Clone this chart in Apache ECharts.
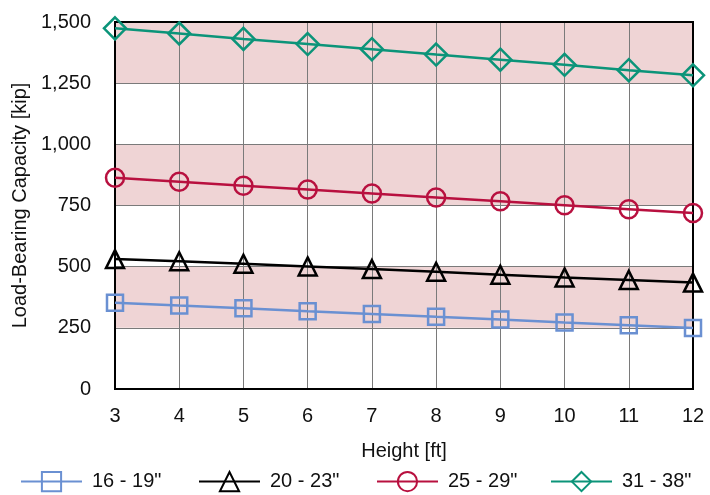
<!DOCTYPE html>
<html><head><meta charset="utf-8">
<script src="https://cdn.jsdelivr.net/npm/echarts@6/dist/echarts.min.js"></script>
<style>html,body{margin:0;padding:0;background:#fff}#c{width:710px;height:495px}</style>
</head><body><div id="c"></div>
<script>
var heights = [3,4,5,6,7,8,9,10,11,12];
var seriesNames = ['16 - 19"', '20 - 23"', '25 - 29"', '31 - 38"'];
var s16_19 = [353, 341, 330, 318, 307, 295, 284, 272, 261, 249];
var s20_23 = [531, 522, 512, 501, 490, 479, 467, 456, 446, 435];
var s25_29 = [863, 847, 831, 815, 799, 783, 767, 751, 735, 719];
var s31_38 = [1474, 1453, 1431, 1410, 1389, 1367, 1346, 1325, 1303, 1282];
var bands = [[250,500],[750,1000],[1250,1500]];

var colors = ['#6a90d2', '#000000', '#b8103f', '#0b9479'];
var symbols = ['rect', 'triangle', 'circle', 'diamond'];
var sizes = [16, 18, 18, 22];
var datas = [s16_19, s20_23, s25_29, s31_38];
var FONT = 'Liberation Sans, Arial, Helvetica, sans-serif';
var FS = 20;

var series = datas.map(function(d, i){
  return {
    name: seriesNames[i], type: 'line', clip: false,
    data: heights.map(function(h, j){ return [h, d[j]]; }),
    symbol: symbols[i], symbolSize: sizes[i], showAllSymbol: true,
    lineStyle: {color: colors[i], width: 2.5},
    itemStyle: {color: 'rgba(255,255,255,0)', borderColor: colors[i], borderWidth: 2.5},
    emphasis: {disabled: true}, z: 10 + i
  };
});
series.push({
  type: 'line', data: [], silent: true, z: 0, zlevel: 0,
  markArea: {silent: true, z: 0, itemStyle: {color: '#efd4d5'},
    data: bands.map(function(b){ return [{yAxis: b[0]}, {yAxis: b[1]}]; })}
});

var legendLefts = [15, 193, 371, 545];
var legends = seriesNames.map(function(n, i){
  return {data: [n], left: legendLefts[i], top: 466, itemWidth: 61, itemHeight: 24,
    textStyle: {fontFamily: FONT, fontSize: FS, color: '#111', padding: [0,0,0,5]}};
});

var chart = echarts.init(document.getElementById('c'), null, {renderer: 'canvas'});
chart.setOption({
  animation: false,
  color: colors,
  grid: {left: 115, right: 17, top: 22, bottom: 106, show: true, borderColor: '#000', borderWidth: 2, backgroundColor: 'transparent', z: 8},
  xAxis: {type: 'value', min: 3, max: 12, interval: 1, z: 5,
    name: 'Height [ft]', nameLocation: 'middle', nameGap: 52,
    nameTextStyle: {fontFamily: FONT, fontSize: FS, color: '#111'},
    axisLine: {show: false}, axisTick: {show: false},
    axisLabel: {fontFamily: FONT, fontSize: FS, color: '#111', margin: 17},
    splitLine: {show: true, lineStyle: {color: '#7a7a7a', width: 1}}},
  yAxis: {type: 'value', min: 0, max: 1500, interval: 250, z: 5,
    name: 'Load-Bearing Capacity [kip]', nameLocation: 'middle', nameGap: 82,
    nameTextStyle: {fontFamily: FONT, fontSize: FS, color: '#111'},
    axisLine: {show: false}, axisTick: {show: false},
    axisLabel: {fontFamily: FONT, fontSize: FS, color: '#111', margin: 24,
      formatter: function(v){ return v.toLocaleString('en-US'); }},
    splitLine: {show: true, lineStyle: {color: '#7a7a7a', width: 1}}},
  legend: legends,
  series: series
});
</script></body></html>
